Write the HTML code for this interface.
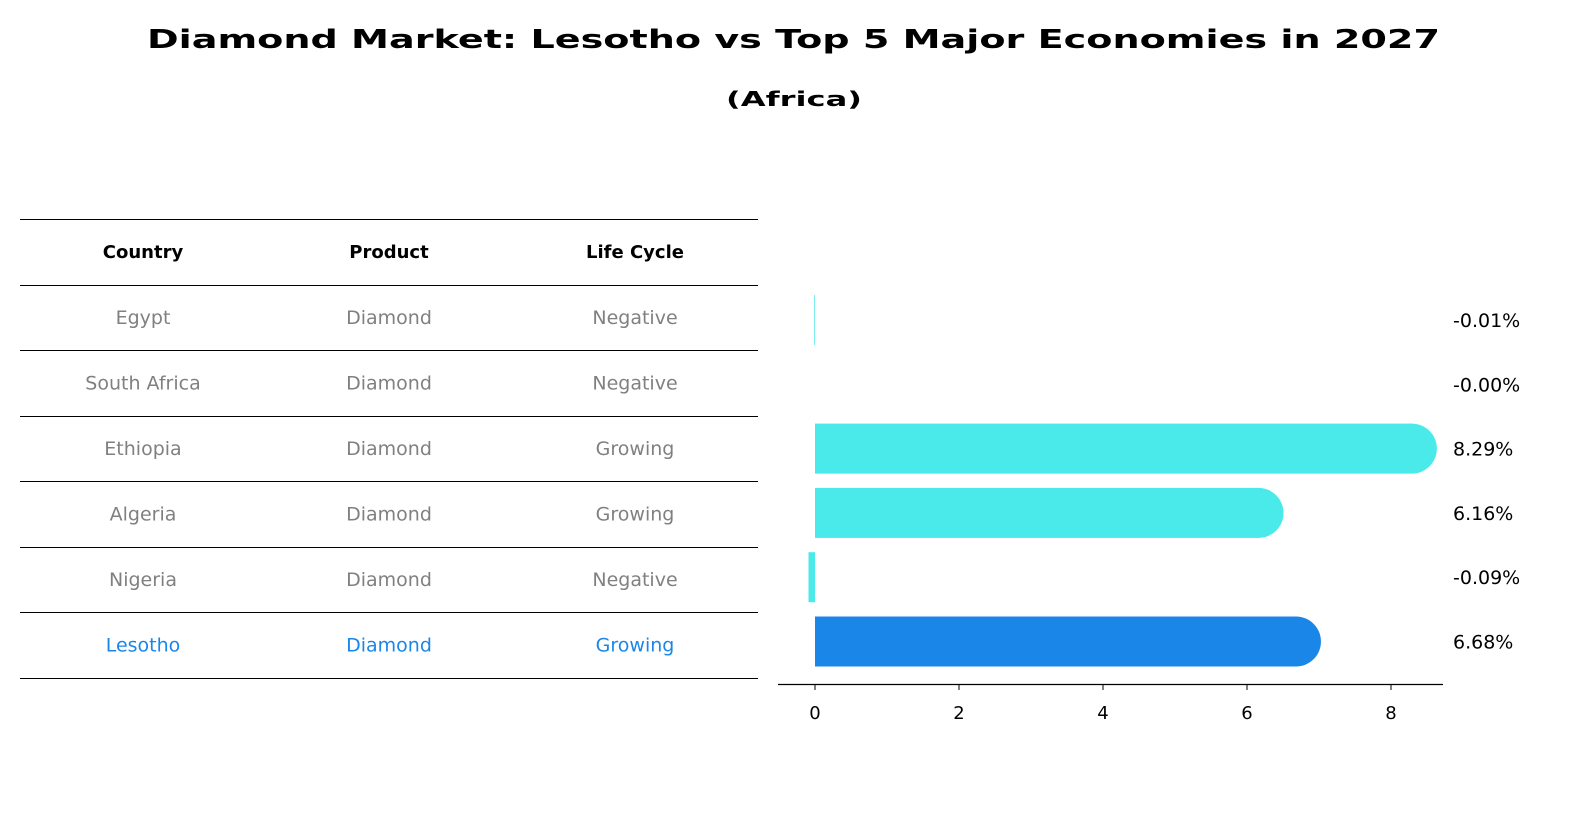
<!DOCTYPE html>
<html><head><meta charset="utf-8"><style>
body{margin:0;background:#fff;}
svg text{font-family:"DejaVu Sans","Liberation Sans",sans-serif;}
</style></head><body>
<svg width="1596" height="823" viewBox="0 0 1596 823" xmlns="http://www.w3.org/2000/svg">
<text x="147" y="48" font-size="26" font-weight="bold" textLength="1293" lengthAdjust="spacingAndGlyphs">Diamond Market: Lesotho vs Top 5 Major Economies in 2027</text>
<text x="726" y="106" font-size="20" font-weight="bold" textLength="136" lengthAdjust="spacingAndGlyphs">(Africa)</text>
<g id="table"></g>
<g id="bars"></g>
</svg>
<script>
const countries=["Egypt","South Africa","Ethiopia","Algeria","Nigeria","Lesotho"];
const products=["Diamond","Diamond","Diamond","Diamond","Diamond","Diamond"];
const cycles=["Negative","Negative","Growing","Growing","Negative","Growing"];
const values=[-0.01,-0.001,8.29,6.16,-0.09,6.68];
const valueLabels=["-0.01%","-0.00%","8.29%","6.16%","-0.09%","6.68%"];
const ticks=[0,2,4,6,8];
const NS="http://www.w3.org/2000/svg";
function mk(tag,attrs,parent){const e=document.createElementNS(NS,tag);for(const k in attrs)e.setAttribute(k,attrs[k]);parent.appendChild(e);return e;}
const tbl=document.getElementById('table');
const lineYs=[219,285,350,416,481,547,612,678];
lineYs.forEach(y=>{const l=mk('line',{x1:20,x2:758,y1:y+0.5,y2:y+0.5,stroke:'#000','stroke-width':1},tbl);

});
const colX=[143,389,635];
["Country","Product","Life Cycle"].forEach((h,i)=>{const t=mk('text',{x:colX[i],y:258,'text-anchor':'middle','font-size':18,'font-weight':'bold'},tbl);t.textContent=h;

});
const rowY=i=>324+i*65.5;
countries.forEach((c,i)=>{const col=c==="Lesotho"?"#1a86e8":"#808080";
[c,products[i],cycles[i]].forEach((v,j)=>{const t=mk('text',{x:colX[j],y:rowY(i),'text-anchor':'middle','font-size':19,fill:col},tbl);t.textContent=v;

});});
const g=document.getElementById('bars');
const xs=v=>815+v*72;
const yc=i=>320+i*64.3;
const bh=50;
const ax=mk('line',{x1:778,x2:1443,y1:684.5,y2:684.5,stroke:'#000','stroke-width':1.3},g);


ticks.forEach(t=>{const l=mk('line',{x1:xs(t),x2:xs(t),y1:684,y2:690,stroke:'#000'},g);


const tx=mk('text',{x:xs(t),y:719,'text-anchor':'middle','font-size':18},g);tx.textContent=t;

});
values.forEach((v,i)=>{const col=countries[i]==="Lesotho"?"#1a86e8":"#4aeaea";
const x0=Math.min(xs(0),xs(v)),w=Math.abs(xs(v)-xs(0))<0.5?(Math.abs(v)>0.005?1.5:0):Math.abs(xs(v)-xs(0));
const r=mk('rect',{x:x0,y:yc(i)-bh/2,width:w,height:bh,fill:col},g);


if(v>0.5){const c=mk('circle',{cx:xs(v),cy:yc(i),r:bh/2,fill:col},g);

}
const lb=mk('text',{x:1453,y:yc(i)+7,'font-size':19},g);lb.textContent=valueLabels[i];

});
</script>
</body></html>
